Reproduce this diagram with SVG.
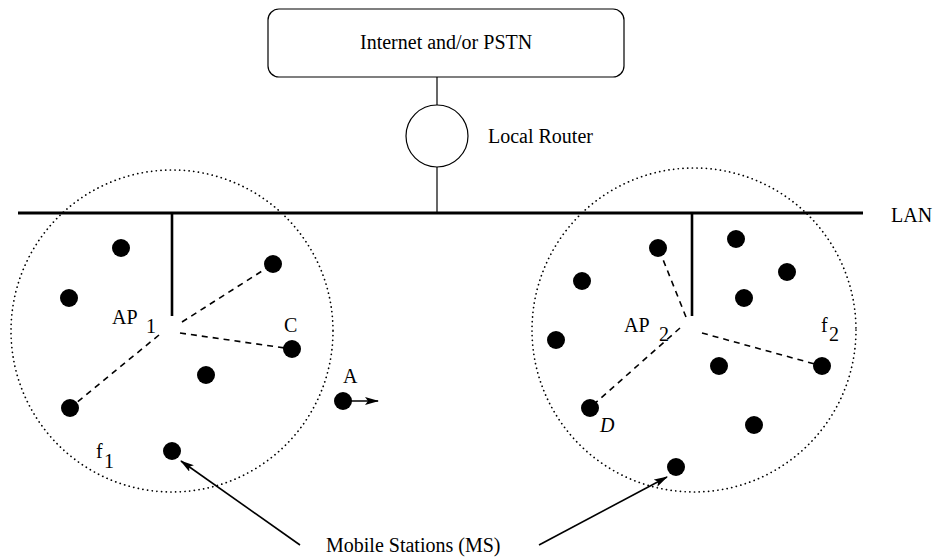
<svg xmlns="http://www.w3.org/2000/svg" width="935" height="557" viewBox="0 0 935 557">
  <defs>
    <style>
      text { font-family: "Liberation Serif", "Times New Roman", serif; font-size: 20px; fill: #000; }
      .thin { stroke: #000; stroke-width: 1.2; fill: none; }
      .bus { stroke: #000; stroke-width: 3; fill: none; }
      .drop { stroke: #000; stroke-width: 2.6; fill: none; }
      .cell { stroke: #000; stroke-width: 1.7; fill: none; stroke-dasharray: 0.1 4.6; stroke-linecap: round; }
      .link { stroke: #000; stroke-width: 1.6; fill: none; stroke-dasharray: 6 5; }
      .ms { fill: #000; }
      .ptr { stroke: #000; stroke-width: 1.6; fill: none; marker-end: url(#head); }
    </style>
    <marker id="head" viewBox="0 0 14 8" refX="13" refY="4" markerWidth="14" markerHeight="8" markerUnits="userSpaceOnUse" orient="auto">
      <path d="M0,0 L14,4 L0,8 L3,4 Z" fill="#000"/>
    </marker>
  </defs>

  <!-- backbone network -->
  <g id="internet">
    <rect x="268" y="9" width="356" height="68" rx="11" ry="11" class="thin"/>
    <text x="360" y="49">Internet and/or PSTN</text>
  </g>
  <g id="router">
    <circle cx="437" cy="136" r="31" class="thin"/>
    <text x="488" y="143">Local Router</text>
  </g>
  <g id="lan">
    <line x1="18" y1="213" x2="863" y2="213" class="bus"/>
    <text x="891" y="222">LAN</text>
  </g>

  <!-- cell 1 -->
  <g id="cell1">
    <circle cx="172" cy="331" r="161" class="cell"/>
    <text x="96" y="458">f</text>
    <text x="104" y="468">1</text>
  </g>
  <g id="ap1">
    <line x1="172" y1="213" x2="172" y2="316" class="drop"/>
    <text x="112" y="324">AP</text>
    <text x="146" y="333">1</text>
  </g>

  <!-- cell 2 -->
  <g id="cell2">
    <circle cx="694" cy="330" r="162" class="cell"/>
    <text x="821" y="332">f</text>
    <text x="829" y="341">2</text>
  </g>
  <g id="ap2">
    <line x1="692" y1="213" x2="692" y2="316" class="drop"/>
    <text x="624" y="332">AP</text>
    <text x="659" y="341">2</text>
  </g>

  <!-- connectors -->
  <g id="connectors">
    <line x1="437" y1="77" x2="437" y2="105" class="thin"/>
    <line x1="437" y1="167" x2="437" y2="213" class="thin"/>
    <line x1="182" y1="322" x2="273" y2="264" class="link"/>
    <line x1="180" y1="333" x2="292" y2="349" class="link"/>
    <line x1="159" y1="335" x2="70" y2="408" class="link"/>
    <line x1="686" y1="317" x2="660" y2="252" class="link"/>
    <line x1="702" y1="333" x2="822" y2="366" class="link"/>
    <line x1="680" y1="328" x2="592" y2="406" class="link"/>
    <line x1="343" y1="401" x2="378" y2="401" class="ptr"/>
    <line x1="300" y1="545" x2="181" y2="461" class="ptr"/>
    <line x1="539" y1="545" x2="667" y2="477" class="ptr"/>
  </g>

  <!-- mobile stations, cell 1 -->
  <g id="ms-cell1" class="ms">
    <circle cx="121" cy="248" r="9"/>
    <circle cx="69" cy="298" r="9"/>
    <circle cx="273" cy="264" r="9"/>
    <circle cx="292" cy="349" r="9"/>
    <circle cx="206" cy="375" r="9"/>
    <circle cx="70" cy="408" r="9"/>
    <circle cx="172" cy="451" r="9"/>
  </g>
  <g id="ms-c">
    <text x="284" y="332">C</text>
  </g>
  <g id="ms-a">
    <circle cx="343" cy="401" r="9" class="ms"/>
    <text x="343" y="383">A</text>
  </g>

  <!-- mobile stations, cell 2 -->
  <g id="ms-cell2" class="ms">
    <circle cx="658" cy="248" r="9"/>
    <circle cx="736" cy="239" r="9"/>
    <circle cx="787" cy="272" r="9"/>
    <circle cx="744" cy="298" r="9"/>
    <circle cx="582" cy="281" r="9"/>
    <circle cx="556" cy="340" r="9"/>
    <circle cx="719" cy="366" r="9"/>
    <circle cx="822" cy="366" r="9"/>
    <circle cx="754" cy="425" r="9"/>
    <circle cx="676" cy="467" r="9"/>
  </g>
  <g id="ms-d">
    <circle cx="590" cy="408" r="9" class="ms"/>
    <text x="600" y="432" font-style="italic">D</text>
  </g>

  <g id="legend">
    <text x="326" y="552">Mobile Stations (MS)</text>
  </g>
</svg>
